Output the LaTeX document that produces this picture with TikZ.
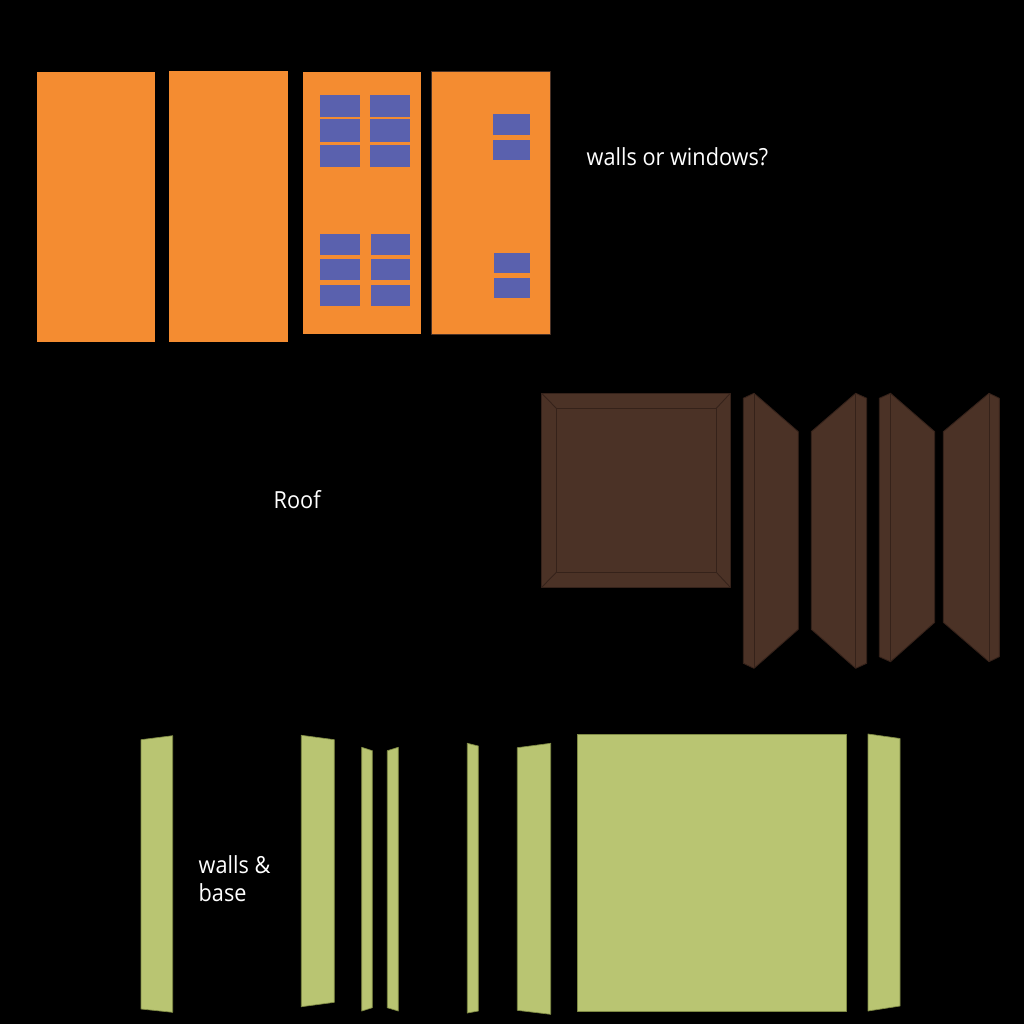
\documentclass[tikz,border=0pt]{standalone}
\usepackage{fontspec}
\setmainfont[FakeStretch=0.92]{Open Sans}
\definecolor{wallorange}{HTML}{F48C31}
\definecolor{glassblue}{HTML}{5A61AE}
\definecolor{roofbrown}{HTML}{4B3226}
\definecolor{roofline}{HTML}{35221A}
\definecolor{basegreen}{HTML}{B9C572}
\definecolor{baseline}{HTML}{7F8A45}
\tikzset{
  wallface/.style={fill=wallorange},
  glass/.style={fill=glassblue},
  roofface/.style={fill=roofbrown, draw=roofline, line width=0.25pt},
  roofcrease/.style={draw=roofline, line width=0.25pt},
  baseface/.style={fill=basegreen, draw=baseline, line width=0.2pt},
  caption/.style={text=white, font=\fontsize{6.7}{8}\selectfont, anchor=base west, inner sep=0pt}
}
\begin{document}
\begin{tikzpicture}[x=0.01cm, y=-0.01cm, line join=round]
\useasboundingbox (0,0) rectangle (1024,1024);
\fill [black] (0,0) rectangle (1024,1024);
% orange panels
\fill [wallface] (37,72) rectangle (155,342);
\fill [wallface] (169,71) rectangle (288,342);
\fill [wallface] (303,72) rectangle (421,334);
\fill [wallface, draw=roofbrown, line width=0.25pt] (431.5,71.5) rectangle (550,334.5);
% windows
\fill [glass] (320,95) rectangle (360,117);
\fill [glass] (370,95) rectangle (410,117);
\fill [glass] (320,119) rectangle (360,142);
\fill [glass] (370,119) rectangle (410,142);
\fill [glass] (320,145) rectangle (360,167);
\fill [glass] (370,145) rectangle (410,167);
\fill [glass] (320,234) rectangle (359.5,255);
\fill [glass] (371,234) rectangle (410,255);
\fill [glass] (320,259) rectangle (359.5,280);
\fill [glass] (371,259) rectangle (410,280);
\fill [glass] (320,285) rectangle (359.5,306);
\fill [glass] (371,285) rectangle (410,306);
\fill [glass] (493,114) rectangle (530,134.5);
\fill [glass] (493,139.5) rectangle (530,160);
\fill [glass] (494,253) rectangle (530,272.5);
\fill [glass] (494,278) rectangle (530,298);
% roof
\draw [roofface] (541.7,393.3) rectangle (730.3,587.3);
\draw [roofcrease] (556.3,408.3) rectangle (716.3,572.3);
\draw [roofcrease] (541.7,393.3) -- (556.3,408.3);
\draw [roofcrease] (730.3,393.3) -- (716.3,408.3);
\draw [roofcrease] (541.7,587.3) -- (556.3,572.3);
\draw [roofcrease] (730.3,587.3) -- (716.3,572.3);
\draw [roofface] (743.3,398.3) -- (754,393.3) -- (798.3,431.7) -- (798.3,629.3) -- (754,668.3) -- (743.3,663.3) -- cycle;
\draw [roofcrease] (754,393.3) -- (754,668.3);
\draw [roofface] (811.3,431.7) -- (855.7,393.3) -- (866.7,398.3) -- (866.7,663.3) -- (855.7,668.3) -- (811.3,629.3) -- cycle;
\draw [roofcrease] (855.7,393.3) -- (855.7,668.3);
\draw [roofface] (879.3,398.3) -- (890.5,393.3) -- (934.7,431.7) -- (934.7,622.3) -- (890.5,661.7) -- (879.3,656.7) -- cycle;
\draw [roofcrease] (890.5,393.3) -- (890.5,661.7);
\draw [roofface] (943.3,431.7) -- (989,393.3) -- (999.3,398.3) -- (999.3,656.7) -- (989,661.7) -- (943.3,622.3) -- cycle;
\draw [roofcrease] (989,393.3) -- (989,661.7);
% green panels
\draw [baseface] (141,739.7) -- (172.7,735.7) -- (172.7,1012.3) -- (141,1009) -- cycle;
\draw [baseface] (301.3,735.3) -- (334.3,739.7) -- (334.3,1002.3) -- (301.3,1006.7) -- cycle;
\draw [baseface] (361.7,747.3) -- (372.3,750.7) -- (372.3,1007.7) -- (361.7,1011) -- cycle;
\draw [baseface] (387.3,750.7) -- (398.3,747.3) -- (398.3,1011) -- (387.3,1007.7) -- cycle;
\draw [baseface] (467.3,743.3) -- (478.3,746) -- (478.3,1011) -- (467.3,1013) -- cycle;
\draw [baseface] (517.3,747.7) -- (550.7,743.3) -- (550.7,1014.3) -- (517.3,1010.3) -- cycle;
\draw [baseface] (577,734) rectangle (846,1011);
\draw [baseface] (868,734) -- (900,738.5) -- (900,1006) -- (868,1011) -- cycle;
% labels
\node [caption] (windowslabel) at (586,165) {walls or windows?};
\node [caption] (rooflabel) at (273,508) {Roof};
\node [caption] (wallslabel) at (198,873) {walls \&};
\node [caption] (baselabel) at (198,901) {base};
\end{tikzpicture}
\end{document}
